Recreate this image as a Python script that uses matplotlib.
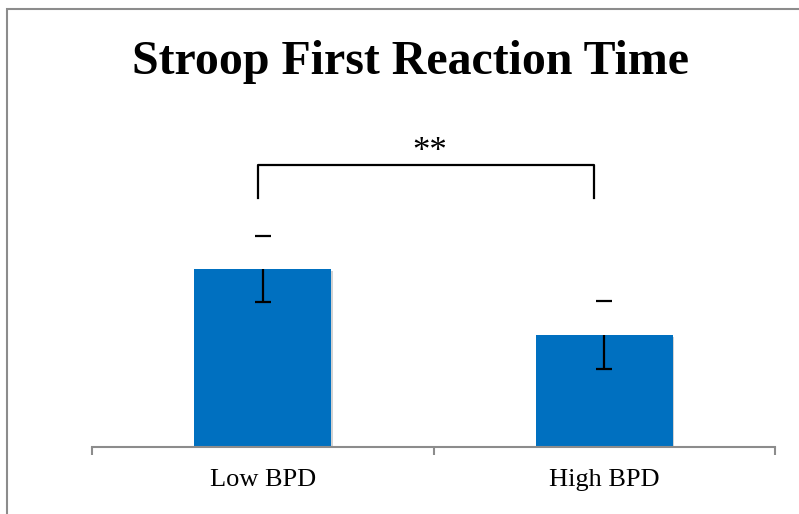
import matplotlib.pyplot as plt
import matplotlib.patheffects as pe
from matplotlib.patches import Rectangle

plt.rcParams['font.family'] = ['Liberation Serif', 'DejaVu Serif']

# mean first reaction time (s) and standard error per group
groups = ['Low BPD', 'High BPD']
rt_mean = [1.78, 1.12]
rt_sem = [0.33, 0.34]

# significance bracket between the groups
sig_label = '**'
bracket_top = 2.82
bracket_bottom = 2.49

fig = plt.figure(figsize=(7.99, 5.14), dpi=100)
W, H = 799, 514

# chart area border
fig.patches.append(Rectangle((7 / W, -0.1), 1.2, 1 - 9 / H + 0.1, transform=fig.transFigure,
                             fill=False, edgecolor='#8c8c8c', linewidth=1.5))

ax = fig.add_axes([92 / W, (H - 447) / H, (775 - 92) / W, (447 - 100) / H])
ax.set_xlim(-0.5, 1.5)
ax.set_ylim(0, 3.47)

x = list(range(len(groups)))
bars = ax.bar(x, rt_mean, width=0.4, color='#0070C0', zorder=2)
for b in bars:
    b.set_path_effects([pe.SimplePatchShadow(offset=(1.2, -1.2), shadow_rgbFace='#808080', alpha=0.35),
                        pe.Normal()])

# lower error bar with a cap at the end, upper one only as a cap
lower = [m - s for m, s in zip(rt_mean, rt_sem)]
upper = [m + s for m, s in zip(rt_mean, rt_sem)]
ax.vlines(x, lower, rt_mean, color='black', linewidth=1.6, zorder=3)
ax.plot(x, lower, linestyle='none', marker='_', markersize=12, markeredgewidth=1.6,
        color='black', zorder=3)
ax.plot(x, upper, linestyle='none', marker='_', markersize=12, markeredgewidth=1.6,
        color='black', zorder=3)

# bracket and stars
bx0, bx1 = -0.013, 0.97
ax.plot([bx0, bx0, bx1, bx1], [bracket_bottom, bracket_top, bracket_top, bracket_bottom],
        color='black', linewidth=1.6, clip_on=False)
ax.text((bx0 + bx1) / 2 + 0.01, bracket_top + 0.04, sig_label, ha='center', va='baseline',
        fontsize=25)

for side in ['left', 'right', 'top']:
    ax.spines[side].set_visible(False)
ax.spines['bottom'].set_color('#8c8c8c')
ax.spines['bottom'].set_linewidth(1.5)
ax.set_yticks([])

ax.set_xticks(x)
ax.set_xticklabels(groups, fontsize=19)
ax.tick_params(axis='x', which='major', length=0, pad=16)
ax.set_xticks([-0.5, 0.5, 1.5], minor=True)
ax.tick_params(axis='x', which='minor', length=6, width=1.5, color='#8c8c8c', direction='out')

fig.text(411 / W, 1 - 74 / H, 'Stroop First Reaction Time', ha='center', va='baseline',
         fontsize=34.5, fontweight='bold')

fig.savefig('out.png', dpi=100)
